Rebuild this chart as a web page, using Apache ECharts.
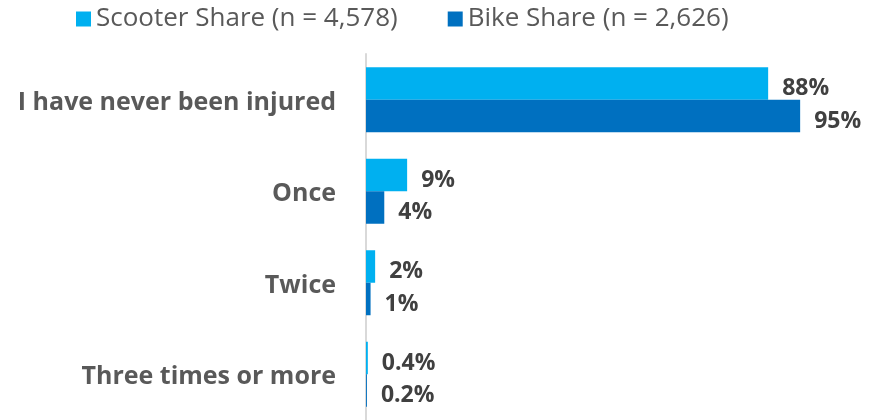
<!DOCTYPE html>
<html>
<head>
<meta charset="utf-8">
<script src="https://cdn.jsdelivr.net/npm/echarts@6/dist/echarts.min.js"></script>
<style>
  html, body { margin: 0; padding: 0; background: #fff; }
  #chart { width: 880px; height: 420px; }
</style>
</head>
<body>
<div id="chart"></div>
<script>
let categories = ["I have never been injured", "Once", "Twice", "Three times or more"];
let scooterShare = [88, 9, 2, 0.4];
let bikeShare = [95, 4, 1, 0.2];
let seriesNames = ["Scooter Share (n = 4,578)", "Bike Share (n = 2,626)"];

function pct(p) {
    return p.value + "%";
}

let labelStyle = {
    show: true,
    position: "right",
    distance: 14,
    offset: [0, 5],
    formatter: pct,
    fontFamily: "Open Sans",
    fontWeight: "bold",
    fontSize: 23,
    color: "#404040"
};

var myChart = echarts.init(document.getElementById("chart"));
myChart.setOption({
    animation: false,
    textStyle: { fontFamily: "Open Sans" },
    legend: {
        left: 76,
        top: 6,
        padding: 0,
        itemWidth: 15,
        itemHeight: 15,
        itemGap: 50,
        icon: "rect",
        textStyle: {
            fontSize: 26,
            color: "#595959",
            fontFamily: "Open Sans"
        },
        data: seriesNames
    },
    grid: {
        left: 366,
        width: 457,
        top: 54,
        height: 368,
        containLabel: false
    },
    xAxis: {
        type: "value",
        min: 0,
        max: 100,
        show: false
    },
    yAxis: {
        type: "category",
        data: categories,
        inverse: true,
        axisLine: { show: true, lineStyle: { color: "#d9d9d9", width: 2 } },
        axisTick: { show: false },
        axisLabel: {
            margin: 30,
            verticalAlign: "top",
            lineHeight: 6,
            fontFamily: "Open Sans",
            fontWeight: "bold",
            fontSize: 25,
            color: "#595959"
        }
    },
    series: [
        {
            name: seriesNames[0],
            type: "bar",
            data: scooterShare,
            barWidth: 32.5,
            barGap: "0%",
            itemStyle: { color: "#00B0F0" },
            label: labelStyle
        },
        {
            name: seriesNames[1],
            type: "bar",
            data: bikeShare,
            barWidth: 32.5,
            barGap: "0%",
            itemStyle: { color: "#0070C0" },
            label: labelStyle
        }
    ]
});
</script>
</body>
</html>
